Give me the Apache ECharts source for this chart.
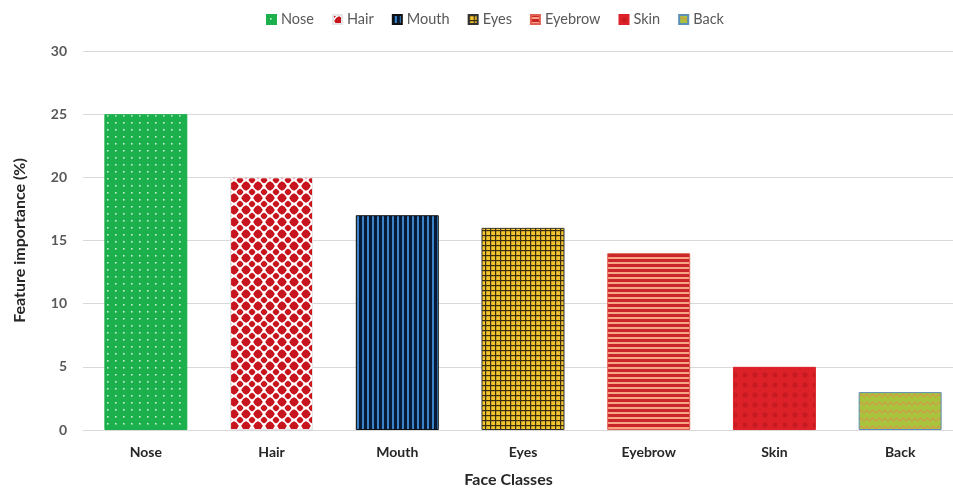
<!DOCTYPE html>
<html><head><meta charset="utf-8">
<script src="https://cdn.jsdelivr.net/npm/echarts@6/dist/echarts.min.js"></script>
<style>html,body{margin:0;padding:0;background:#fff;overflow:hidden}
#c{width:953px;height:489px}</style>
</head><body><div id="c"></div>
<script>
const categories = ['Nose','Hair','Mouth','Eyes','Eyebrow','Skin','Back'];
const values = [25, 20, 17, 16, 14, 5, 3];
const yTicks = [0, 5, 10, 15, 20, 25, 30];

function tile(w, h, draw) {
  const c = document.createElement('canvas');
  c.width = w; c.height = h;
  draw(c.getContext('2d'), w, h);
  return { image: c, repeat: 'repeat' };
}
const patterns = [
  tile(8, 7, (g, w, h) => { g.fillStyle = '#1bb04c'; g.fillRect(0,0,w,h); g.fillStyle = '#c8f0d4'; g.fillRect(3,3,1.6,1.6); }),
  tile(12, 12, (g, w, h) => {
    g.fillStyle = '#ffffff'; g.fillRect(0,0,w,h); g.fillStyle = '#c8141c';
    const d = (x, y, r) => { g.beginPath(); g.moveTo(x, y - r); g.lineTo(x + r, y); g.lineTo(x, y + r); g.lineTo(x - r, y); g.closePath(); g.fill();
      g.beginPath(); g.arc(x, y, r * 0.78, 0, Math.PI * 2); g.fill(); };
    d(6, 6, 5); d(0, 0, 3.6); d(12, 0, 3.6); d(0, 12, 3.6); d(12, 12, 3.6);
  }),
  tile(5, 4, (g, w, h) => { g.fillStyle = '#071a35'; g.fillRect(0,0,w,h); g.fillStyle = '#3b82c6'; g.fillRect(2,0,2,h); }),
  tile(5, 5, (g, w, h) => { g.fillStyle = '#f3c630'; g.fillRect(0,0,w,h); g.fillStyle = '#3b2f10'; g.fillRect(0,0,1.2,h); g.fillRect(0,0,w,1.2); }),
  tile(4, 5, (g, w, h) => { g.fillStyle = '#c8262a'; g.fillRect(0,0,w,h); g.fillStyle = '#f8a585'; g.fillRect(0,2,w,2); }),
  tile(10, 10, (g, w, h) => { g.fillStyle = '#dc2128'; g.fillRect(0,0,w,h); g.fillStyle = '#c81a22'; g.beginPath(); g.arc(5,5,2.5,0,Math.PI*2); g.fill(); }),
  tile(12, 8, (g, w, h) => {
    g.fillStyle = '#a9c43c'; g.fillRect(0,0,w,h);
    g.strokeStyle = '#d39a4a'; g.lineWidth = 1.2; g.beginPath();
    g.moveTo(0, 5); g.lineTo(3, 2); g.lineTo(6, 5); g.lineTo(9, 2); g.lineTo(12, 5); g.stroke();
  })
];
const borders = ['#1bb04c', '#e6e6e6', '#111111', '#333333', '#e06050', '#dc2128', '#5b8fb8'];

const series = categories.map((name, i) => ({
  name, type: 'bar', stack: 'all', barWidth: '66%',
  data: categories.map((_, j) => j === i ? values[i] : '-'),
  itemStyle: { color: patterns[i], borderColor: borders[i], borderWidth: 1 }
}));

const chart = echarts.init(document.getElementById('c'), null, { renderer: 'canvas' });
chart.setOption({
  animation: false,
  textStyle: { fontFamily: 'Lato' },
  legend: {
    top: 7, left: 261, itemWidth: 9, itemHeight: 9, itemGap: 18,
    icon: 'rect',
    textStyle: { color: '#595959', fontSize: 14.5, fontFamily: 'Lato' },
    data: categories
  },
  grid: { left: 83, top: 51, width: 880, height: 379, containLabel: false, outerBoundsMode: 'none' },
  xAxis: {
    type: 'category', data: categories,
    axisLine: { lineStyle: { color: '#d9d9d9' } },
    axisTick: { show: false },
    axisLabel: { color: '#262626', fontWeight: 'bold', fontSize: 14, margin: 15 },
    name: 'Face Classes', nameLocation: 'middle', nameGap: 42,
    nameTextStyle: { color: '#262626', fontWeight: 'bold', fontSize: 16, padding: [0, 29, 0, 0] }
  },
  yAxis: {
    type: 'value', min: 0, max: 30, interval: 5,
    axisLine: { show: false }, axisTick: { show: false },
    axisLabel: { color: '#595959', fontWeight: 'bold', fontSize: 14, margin: 16,
      formatter: v => yTicks.includes(v) ? String(v) : '' },
    splitLine: { lineStyle: { color: '#d9d9d9' } },
    name: 'Feature importance (%)', nameLocation: 'middle', nameGap: 55, nameRotate: 90,
    nameTextStyle: { color: '#262626', fontWeight: 'bold', fontSize: 16 }
  },
  series
});
</script></body></html>
